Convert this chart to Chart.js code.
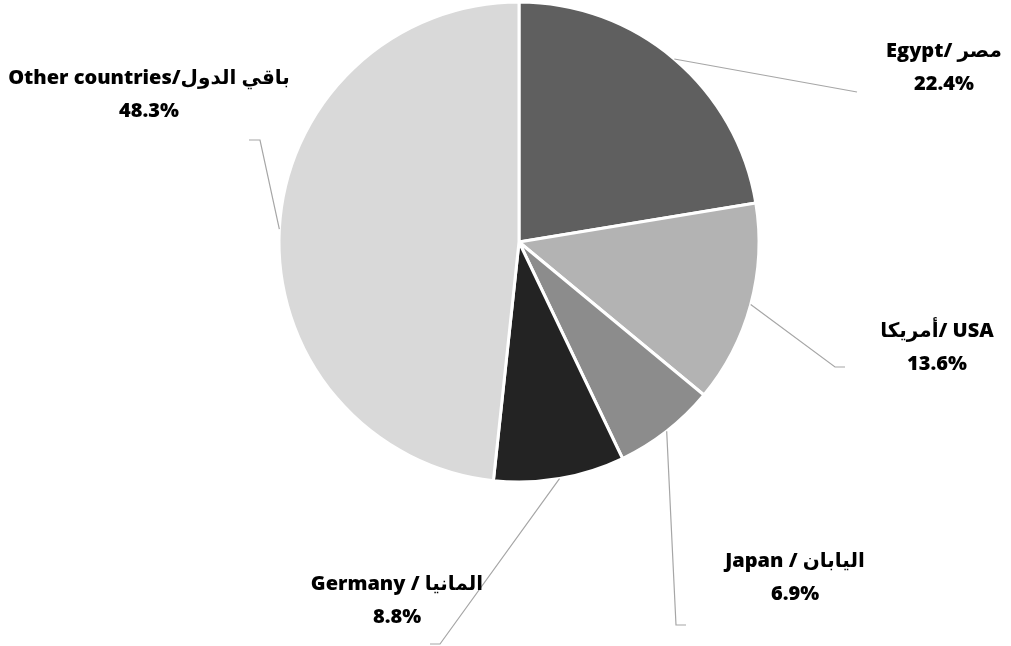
<!DOCTYPE html>
<html>
<head>
<meta charset="utf-8">
<script src="https://cdn.jsdelivr.net/npm/chart.js@4.4.1/dist/chart.umd.min.js"></script>
<style>
  html, body { margin: 0; padding: 0; background: #ffffff; }
  #wrap { width: 1011px; height: 646px; position: relative; }
</style>
</head>
<body>
<div id="wrap"><canvas id="c" width="1011" height="646"></canvas></div>
<script>
// ---- data ----
const categories = ["Egypt/ مصر", "أمريكا/ USA", "Japan / اليابان", "Germany / المانيا", "Other countries/باقي الدول"];
const shares = [22.4, 13.6, 6.9, 8.8, 48.3];
const percentLabels = ["22.4%", "13.6%", "6.9%", "8.8%", "48.3%"];

// ---- styling / layout (not data) ----
const sliceColors = ["#5f5f5f", "#b3b3b3", "#8c8c8c", "#232323", "#d9d9d9"];
// label text centre (x, first-line y) and leader-line path after the slice midpoint
const labelLayout = [
  { x: 944, y: 51, path: [[857, 92]] },
  { x: 937, y: 331, path: [[835, 367], [845, 367]] },
  { x: 795, y: 561, path: [[676, 625], [686, 625]] },
  { x: 397, y: 584, path: [[440, 644], [430, 644]] },
  { x: 149, y: 78, path: [[260, 140], [249, 140]] }
];
const lineGap = 33;

const leaderPlugin = {
  id: 'leaders',
  afterDatasetsDraw(chart) {
    const ctx = chart.ctx;
    const meta = chart.getDatasetMeta(0);
    ctx.save();
    meta.data.forEach((arc, i) => {
      const p = arc.getProps(['x', 'y', 'startAngle', 'endAngle', 'outerRadius'], true);
      const mid = (p.startAngle + p.endAngle) / 2;
      const sx = p.x + Math.cos(mid) * p.outerRadius;
      const sy = p.y + Math.sin(mid) * p.outerRadius;
      ctx.beginPath();
      ctx.strokeStyle = '#a6a6a6';
      ctx.lineWidth = 1.2;
      ctx.moveTo(sx, sy);
      labelLayout[i].path.forEach(pt => ctx.lineTo(pt[0], pt[1]));
      ctx.stroke();
    });
    ctx.fillStyle = '#000000';
    ctx.font = '800 20px "Open Sans", "DejaVu Sans", sans-serif';
    ctx.textAlign = 'center';
    ctx.textBaseline = 'middle';
    ctx.direction = 'ltr';
    categories.forEach((name, i) => {
      const L = labelLayout[i];
      ctx.fillText(name, L.x, L.y);
      ctx.fillText(percentLabels[i], L.x, L.y + lineGap);
    });
    ctx.restore();
  }
};

new Chart(document.getElementById('c'), {
  type: 'pie',
  data: {
    labels: categories,
    datasets: [{
      data: shares,
      backgroundColor: sliceColors,
      borderColor: '#ffffff',
      borderWidth: 3
    }]
  },
  options: {
    responsive: false,
    animation: false,
    layout: { padding: { left: 277.5, right: 250.5, top: 0.5, bottom: 162.5 } },
    plugins: {
      legend: { display: false },
      tooltip: { enabled: false }
    }
  },
  plugins: [leaderPlugin]
});
</script>
</body>
</html>
